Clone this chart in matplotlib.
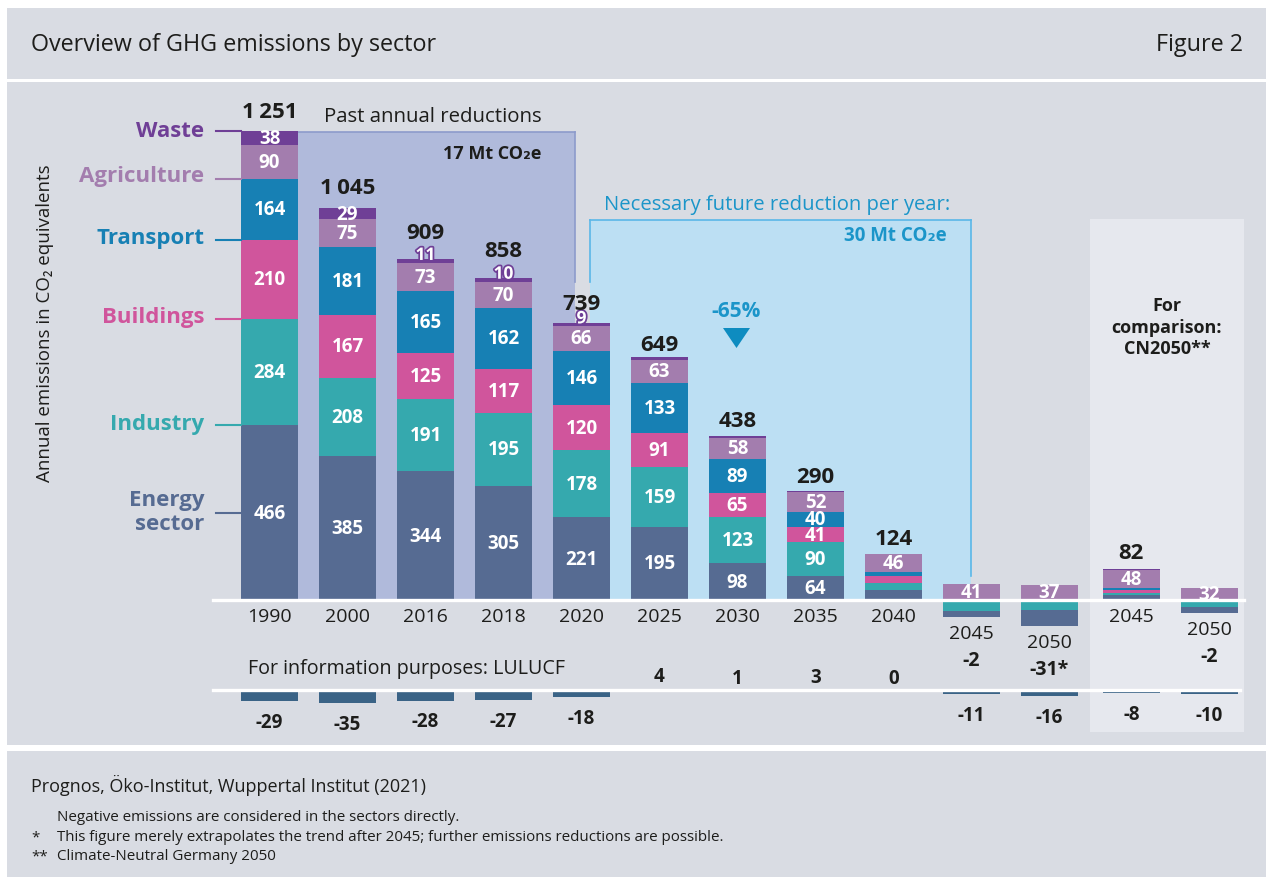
"""
GHG emissions by sector - stacked bars with LULUCF row
"""

import numpy as np
import matplotlib.pyplot as plt
from matplotlib.patches import Rectangle, Polygon
import matplotlib.patheffects as pe

plt.rcParams['font.family'] = ['Open Sans', 'DejaVu Sans']

# Data (Mt CO2e)
years = ["1990", "2000", "2016", "2018", "2020", "2025", "2030", "2035", "2040",
         "2045", "2050", "2045", "2050"]
sector_names = ["Energy\nsector", "Industry", "Buildings", "Transport", "Agriculture", "Waste"]
energy = [466, 385, 344, 305, 221, 195, 98, 64, 28, -17, -44, 14, -16]
industry = [284, 208, 191, 195, 178, 159, 123, 90, 18, -28, -26, 5, -18]
buildings = [210, 167, 125, 117, 120, 91, 65, 41, 19, 0, 0, 9, 0]
transport = [164, 181, 165, 162, 146, 133, 89, 40, 11, 2, 2, 3, 0]
agriculture = [90, 75, 73, 70, 66, 63, 58, 52, 46, 41, 37, 48, 32]
waste = [38, 29, 11, 10, 9, 8, 5, 3, 2, 0, 0, 3, 0]
totals = ["1\u2009251", "1\u2009045", "909", "858", "739", "649", "438", "290", "124",
          "-2", "-31*", "82", "-2"]
lulucf = [-29, -35, -28, -27, -18, 4, 1, 3, 0, -11, -16, -8, -10]

colors = ["#566b92", "#35a9ae", "#d0559c", "#1780b4", "#a37dae", "#6f3f96"]
lulucf_color = "#3a6386"
bg_grey = "#d9dce3"
dark = "#1d1d1b"
blue_txt = "#1b95c9"

W, H = 1266, 878
X0, STEP = 269.5, 78.0   # pixel of first bar centre, bar pitch
BASE, K = 601, 0.375     # pixel of zero line, pixels per Mt
LBASE = 691              # pixel of LULUCF zero line
BAR_W = 0.73

fig = plt.figure(figsize=(W / 100, H / 100), dpi=100)

# background layer in pixel coordinates
bg = fig.add_axes([0, 0, 1, 1], zorder=0)
bg.set_xlim(0, W)
bg.set_ylim(H, 0)
bg.axis('off')

bg.add_patch(Rectangle((7, 9), W - 7, 71, color=bg_grey, lw=0))
bg.add_patch(Rectangle((7, 83), W - 7, 663, color=bg_grey, lw=0))
bg.add_patch(Rectangle((7, 752), W - 7, 126, color=bg_grey, lw=0))

# shaded periods
bg.add_patch(Rectangle((298, 133), 277, BASE - 133, color="#b0badb", lw=0))
bg.plot([298, 575], [133, 133], color="#8d9bcb", lw=1.2)
bg.plot([575, 575], [133, 283], color="#8d9bcb", lw=1.2)
bg.add_patch(Rectangle((590, 221), 381, BASE - 221, color="#bcdff3", lw=0))
bg.plot([590, 971], [221, 221], color="#5ab7e8", lw=1.2)
bg.plot([590, 590], [221, 283], color="#5ab7e8", lw=1.2)
bg.plot([971, 971], [221, 577], color="#5ab7e8", lw=1.2)
bg.add_patch(Rectangle((1090, 220), 154, 513, color="#e6e8ee", lw=0))

# header / footer
bg.text(31, 45, "Overview of GHG emissions by sector", fontsize=16.8, color=dark, va='center')
bg.text(1243, 45, "Figure 2", fontsize=16.8, color=dark, va='center', ha='right')
bg.text(31, 785, "Prognos, Öko-Institut, Wuppertal Institut (2021)", fontsize=13,
        color=dark, va='center')
notes = [("", "Negative emissions are considered in the sectors directly."),
         ("*", "This figure merely extrapolates the trend after 2045; further emissions reductions are possible."),
         ("**", "Climate-Neutral Germany 2050")]
for k, (mark, note) in enumerate(notes):
    yy = 818 + k * 19.5
    bg.text(31, yy, mark, fontsize=10.9, color=dark, va='center')
    bg.text(57, yy, note, fontsize=10.9, color=dark, va='center')

# annotations
bg.text(45, 323, "Annual emissions in CO\u2082 equivalents", fontsize=13.5, color=dark,
        rotation=90, ha='center', va='center')
bg.text(433, 117, "Past annual reductions", fontsize=14.7, color=dark, ha='center', va='center')
bg.text(541, 154, "17 Mt CO\u2082e", fontsize=13, color=dark, ha='right', va='center',
        fontweight='bold')
bg.text(777, 205, "Necessary future reduction per year:", fontsize=14.6, color=blue_txt,
        ha='center', va='center')
bg.text(947, 236, "30 Mt CO\u2082e", fontsize=13.5, color=blue_txt, ha='right', va='center',
        fontweight='bold')
bg.text(736, 312, "-65%", fontsize=15, color=blue_txt, ha='center', va='center',
        fontweight='bold')
bg.add_patch(Polygon([(723, 329), (750, 329), (736.5, 349)], closed=True,
                     color="#0e8cc0", lw=0))
bg.text(1167, 328, "For\ncomparison:\nCN2050**", fontsize=13, color=dark, ha='center',
        va='center', fontweight='bold', linespacing=1.25)
bg.text(248, 669, "For information purposes: LULUCF", fontsize=14.2, color=dark, va='center')

# main bars
xlim = (-X0 / STEP, (W - X0) / STEP)
ax = fig.add_axes([0, 0, 1, 1], zorder=1)
ax.set_xlim(*xlim)
ax.set_ylim(-(H - BASE) / K, BASE / K)
ax.axis('off')
ax.patch.set_alpha(0)

xpos = np.arange(len(years), dtype=float)
xpos[11:] += 0.05

data = np.array([energy, industry, buildings, transport, agriculture, waste], dtype=float)
pos = np.clip(data, 0, None)
neg = np.clip(data, None, 0)
pos_bottom = np.vstack([np.zeros(len(years)), np.cumsum(pos, axis=0)[:-1]])
# negatives stack downwards, later sectors closest to the zero line
neg_bottom = np.vstack([np.cumsum(neg[::-1], axis=0)[::-1][1:], np.zeros(len(years))])

for s in range(len(sector_names)):
    bottoms = np.where(data[s] >= 0, pos_bottom[s], neg_bottom[s])
    ax.bar(xpos, data[s], BAR_W, bottom=bottoms, color=colors[s], lw=0)
    for i in range(len(years)):
        v = data[s][i]
        if v >= 29:
            ax.text(xpos[i], bottoms[i] + v / 2, f"{v:.0f}", ha='center', va='center',
                    color='white', fontsize=13.5, fontweight='bold')

# small waste values written above the bars with outline
for i in [2, 3, 4]:
    top = pos_bottom[5][i] + data[5][i]
    ax.annotate(f"{data[5][i]:.0f}", (xpos[i], top), xytext=(0, 3), textcoords='offset points',
                ha='center', va='center', color='white', fontsize=12.5, fontweight='bold',
                path_effects=[pe.withStroke(linewidth=2.5, foreground=colors[5])])

ax.axhline(0, xmin=213 / W, xmax=1244 / W, color='white', lw=2.4)

pos_sum = pos.sum(axis=0)
neg_sum = neg.sum(axis=0)
net = data.sum(axis=0)
total_gap = [14, 15, 21, 22, 14, 7, 10, 9, 9.5, 10, 10, 11, 10]  # px above bar top
for i, yr in enumerate(years):
    low = min(0, neg_sum[i])
    ax.annotate(yr, (xpos[i], low), xytext=(0, -21 * 0.72), textcoords='offset points',
                ha='center', va='baseline', color=dark, fontsize=14)
    if net[i] > 0:
        ax.annotate(totals[i], (xpos[i], pos_sum[i]), xytext=(0, total_gap[i] * 0.72),
                    textcoords='offset points', ha='center', va='baseline', color=dark,
                    fontsize=16, fontweight='bold')
    else:
        ax.annotate(totals[i], (xpos[i], low), xytext=(0, -48 * 0.72),
                    textcoords='offset points', ha='center', va='baseline', color=dark,
                    fontsize=14, fontweight='bold')

# sector labels with leader lines on the 1990 bar
col0 = data[:, 0]
cum0 = np.cumsum(col0)
line_y = [col0[0] / 2, cum0[0], cum0[1], cum0[2], cum0[3], cum0[5]]
lab_shift = [-1, -2, -2, -3, -3, 0]
x_line0 = (216 - X0) / STEP
x_text = (204 - X0) / STEP
for s, name in enumerate(sector_names):
    ax.plot([x_line0, xpos[0] - BAR_W / 2], [line_y[s], line_y[s]], color=colors[s], lw=1.5)
    ax.annotate(name, (x_text, line_y[s]), xytext=(0, -lab_shift[s] * 0.72),
                textcoords='offset points', ha='right', va='center', color=colors[s],
                fontsize=16, fontweight='bold', linespacing=1.15)

# LULUCF row
lx = fig.add_axes([0, 0, 1, 1], zorder=1)
lx.set_xlim(*xlim)
lx.set_ylim(-(H - LBASE) / K, LBASE / K)
lx.axis('off')
lx.patch.set_alpha(0)
lx.bar(xpos, lulucf, BAR_W, color=lulucf_color, lw=0)
lx.axhline(0, xmin=213 / W, xmax=1240 / W, color='white', lw=2.4)
for i, v in enumerate(lulucf):
    if v < 0:
        lx.annotate(f"{v}", (xpos[i], v), xytext=(0, -26 * 0.72), textcoords='offset points',
                    ha='center', va='baseline', color=dark, fontsize=13.5, fontweight='bold')
    else:
        lx.annotate(f"{v}", (xpos[i], v), xytext=(0, 7 * 0.72), textcoords='offset points',
                    ha='center', va='baseline', color=dark, fontsize=13.5, fontweight='bold')

fig.savefig("out.png", dpi=100)
plt.close(fig)
